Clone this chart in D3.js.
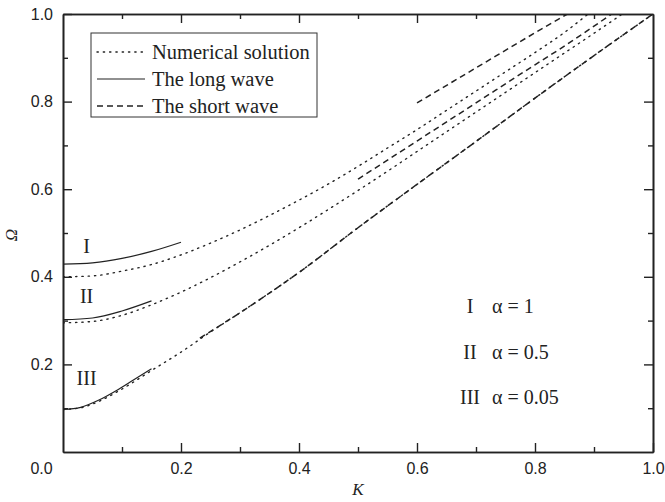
<!DOCTYPE html>
<html>
<head>
<meta charset="utf-8">
<script src="https://cdn.jsdelivr.net/npm/d3@7"></script>
<style>
  body { margin: 0; background: #fff; }
  text { fill: #222; }
</style>
</head>
<body>
<div id="canvas"></div>
<script>
"use strict"

/* canvas size and plot box */
let svgWidth = 665;
let svgHeight = 502;
let leftMargin = 63;
let rightMargin = 12;
let topMargin = 14;
let bottomMargin = 50;

/* data: [K, Omega] */
let numericalI = [[0, 0.400], [0.05, 0.402], [0.1, 0.413], [0.15, 0.428], [0.2, 0.450], [0.25, 0.477], [0.3, 0.507],
  [0.35, 0.540], [0.4, 0.575], [0.45, 0.612], [0.5, 0.652], [0.55, 0.694], [0.6, 0.736], [0.65, 0.780],
  [0.7, 0.824], [0.75, 0.868], [0.8, 0.912], [0.85, 0.958], [0.89, 1.0]];
let numericalII = [[0, 0.295], [0.05, 0.298], [0.1, 0.312], [0.15, 0.336], [0.2, 0.365], [0.25, 0.398], [0.3, 0.434],
  [0.35, 0.472], [0.4, 0.512], [0.45, 0.554], [0.5, 0.597], [0.55, 0.641], [0.6, 0.686], [0.65, 0.731],
  [0.7, 0.776], [0.75, 0.821], [0.8, 0.866], [0.85, 0.911], [0.9, 0.956], [0.948, 1.0]];
let numericalIII = [[0, 0.097], [0.03, 0.101], [0.06, 0.115], [0.09, 0.136], [0.12, 0.160], [0.15, 0.186],
  [0.2, 0.228], [0.25, 0.274], [0.3, 0.318], [0.4, 0.410], [0.5, 0.512], [0.6, 0.611], [0.7, 0.709],
  [0.8, 0.808], [0.9, 0.905], [1.0, 1.0]];

let longI = [[0, 0.429], [0.05, 0.432], [0.1, 0.442], [0.15, 0.458], [0.2, 0.479]];
let longII = [[0, 0.302], [0.05, 0.306], [0.1, 0.322], [0.15, 0.345]];
let longIII = [[0, 0.097], [0.03, 0.102], [0.06, 0.118], [0.09, 0.140], [0.12, 0.165], [0.15, 0.190]];

let shortI = [[0.6, 0.797], [0.7, 0.877], [0.8, 0.957], [0.855, 1.0]];
let shortII = [[0.5, 0.623], [0.537, 0.655], [0.6, 0.710], [0.7, 0.797], [0.8, 0.884], [0.842, 0.920], [0.93, 1.0]];
let shortIII = [[0.232, 0.260], [0.3, 0.318], [0.4, 0.410], [0.5, 0.512], [0.6, 0.611], [0.7, 0.709],
  [0.8, 0.808], [0.9, 0.905], [1.0, 1.0]];

/* ticks */
let majorTicks = [0, 0.2, 0.4, 0.6, 0.8, 1.0];
let minorTicks = [0.1, 0.3, 0.5, 0.7, 0.9];

/* legend and annotations */
let legendNames = ["Numerical solution", "The long wave", "The short wave"];
let legendDash = ["1.3,5", null, "6,4"];
let curveNames = ["I", "II", "III"];
let alphaLabels = ["\u03b1 = 1", "\u03b1 = 0.5", "\u03b1 = 0.05"];

let svg = d3.select("#canvas")
  .append("svg")
  .attr("width", svgWidth)
  .attr("height", svgHeight);

let xScale = d3.scaleLinear()
  .domain([0, 1])
  .range([leftMargin, svgWidth - rightMargin]);

let yScale = d3.scaleLinear()
  .domain([0, 1])
  .range([svgHeight - bottomMargin, topMargin]);

/* clip so curves stop at the frame */
svg.append("clipPath").attr("id", "plotClip")
  .append("rect")
  .attr("x", xScale(0)).attr("y", yScale(1))
  .attr("width", xScale(1) - xScale(0))
  .attr("height", yScale(0) - yScale(1));

let line = d3.line()
  .x(d => xScale(d[0]))
  .y(d => yScale(d[1]))
  .curve(d3.curveMonotoneX);

let curves = [
  { data: numericalI, dash: "1.3,5" },
  { data: numericalII, dash: "1.3,5" },
  { data: numericalIII, dash: "1.3,5" },
  { data: longI, dash: null },
  { data: longII, dash: null },
  { data: longIII, dash: null },
  { data: shortI, dash: "6,4" },
  { data: shortII, dash: "6,4" },
  { data: shortIII, dash: "6,4" }
];

function strokeWidth(dash) {
  if (dash === "1.3,5") return 1.4;
  if (dash === "6,4") return 1.5;
  return 1.2;
}

svg.append("g")
  .attr("clip-path", "url(#plotClip)")
  .selectAll("path")
  .data(curves)
  .join("path")
  .attr("d", d => line(d.data))
  .attr("fill", "none")
  .attr("stroke", "#222")
  .attr("stroke-width", d => strokeWidth(d.dash))
  .attr("stroke-linecap", d => d.dash === "1.3,5" ? "round" : "butt")
  .attr("stroke-dasharray", d => d.dash);

/* axes with inward ticks on all four sides */
function styleAxis(g) {
  g.select(".domain").attr("stroke", "#222").attr("stroke-width", 1.6);
  g.selectAll(".tick line").attr("stroke", "#222").attr("stroke-width", 1.4);
  g.selectAll(".tick text")
    .attr("fill", "#222")
    .style("font-family", "'Liberation Sans', Arial, sans-serif")
    .style("font-size", "16px");
}

let fmt = d3.format(".1f");

let bottomAxis = svg.append("g")
  .attr("transform", "translate(0," + yScale(0) + ")")
  .call(d3.axisBottom(xScale).tickValues(majorTicks).tickFormat(fmt).tickSize(-9).tickSizeOuter(0).tickPadding(11))
  .call(styleAxis);
bottomAxis.selectAll(".tick text").filter(d => d === 0).attr("x", -22);
bottomAxis.selectAll(".tick line").filter(d => d === 0).remove();

svg.append("g")
  .attr("transform", "translate(0," + yScale(0) + ")")
  .call(d3.axisBottom(xScale).tickValues(minorTicks).tickFormat("").tickSize(-5).tickSizeOuter(0))
  .call(styleAxis);

svg.append("g")
  .attr("transform", "translate(0," + yScale(1) + ")")
  .call(d3.axisTop(xScale).tickValues(majorTicks.slice(1, 5)).tickFormat("").tickSize(-9).tickSizeOuter(0))
  .call(styleAxis);

svg.append("g")
  .attr("transform", "translate(0," + yScale(1) + ")")
  .call(d3.axisTop(xScale).tickValues(minorTicks).tickFormat("").tickSize(-5).tickSizeOuter(0))
  .call(styleAxis);

svg.append("g")
  .attr("transform", "translate(" + xScale(0) + ",0)")
  .call(d3.axisLeft(yScale).tickValues(majorTicks.slice(1)).tickFormat(fmt).tickSize(-9).tickSizeOuter(0).tickPadding(10))
  .call(styleAxis);

svg.append("g")
  .attr("transform", "translate(" + xScale(0) + ",0)")
  .call(d3.axisLeft(yScale).tickValues(minorTicks).tickFormat("").tickSize(-5).tickSizeOuter(0))
  .call(styleAxis);

svg.append("g")
  .attr("transform", "translate(" + xScale(1) + ",0)")
  .call(d3.axisRight(yScale).tickValues(majorTicks.slice(1, 5)).tickFormat("").tickSize(-9).tickSizeOuter(0))
  .call(styleAxis);

svg.append("g")
  .attr("transform", "translate(" + xScale(1) + ",0)")
  .call(d3.axisRight(yScale).tickValues(minorTicks).tickFormat("").tickSize(-5).tickSizeOuter(0))
  .call(styleAxis);

/* axis titles */
svg.append("text")
  .attr("x", (xScale(0) + xScale(1)) / 2)
  .attr("y", svgHeight - 7)
  .style("text-anchor", "middle")
  .style("font-family", "'Liberation Serif', 'Times New Roman', serif")
  .style("font-style", "italic")
  .style("font-size", "17px")
  .text("K");

svg.append("text")
  .attr("transform", "translate(17," + (yScale(0.5) + 2) + ") rotate(-90)")
  .style("text-anchor", "middle")
  .style("font-family", "'Liberation Serif', 'Times New Roman', serif")
  .style("font-style", "italic")
  .style("font-size", "17px")
  .text("\u03a9");

/* legend box */
let legendX = 91;
let legendY = 33;
svg.append("rect")
  .attr("x", legendX)
  .attr("y", legendY)
  .attr("width", 226)
  .attr("height", 84)
  .attr("fill", "white")
  .attr("stroke", "#333")
  .attr("stroke-width", 1);

legendNames.forEach(function (name, i) {
  let rowY = legendY + 19 + i * 27;
  svg.append("line")
    .attr("x1", legendX + 6)
    .attr("x2", legendX + 54)
    .attr("y1", rowY)
    .attr("y2", rowY)
    .attr("stroke", "#222")
    .attr("stroke-width", strokeWidth(legendDash[i]))
    .attr("stroke-linecap", i === 0 ? "round" : "butt")
    .attr("stroke-dasharray", legendDash[i]);
  svg.append("text")
    .attr("x", legendX + 61)
    .attr("y", rowY + 7)
    .style("font-family", "'Liberation Serif', 'Times New Roman', serif")
    .style("font-size", "20.5px")
    .text(name);
});

/* curve labels near the left axis */
let curveLabelPos = [[0.04, 0.455], [0.04, 0.34], [0.04, 0.152]];
curveNames.forEach(function (name, i) {
  svg.append("text")
    .attr("x", xScale(curveLabelPos[i][0]))
    .attr("y", yScale(curveLabelPos[i][1]))
    .style("text-anchor", "middle")
    .style("font-family", "'Liberation Serif', 'Times New Roman', serif")
    .style("font-size", "20px")
    .text(name);
});

/* alpha key on the right */
curveNames.forEach(function (name, i) {
  let rowY = 313 + i * 45.5;
  svg.append("text")
    .attr("x", 470)
    .attr("y", rowY)
    .style("text-anchor", "middle")
    .style("font-family", "'Liberation Serif', 'Times New Roman', serif")
    .style("font-size", "20px")
    .text(name);
  svg.append("text")
    .attr("x", 492)
    .attr("y", rowY)
    .style("font-family", "'Liberation Serif', 'Times New Roman', serif")
    .style("font-size", "20px")
    .text(alphaLabels[i]);
});
</script>
</body>
</html>
